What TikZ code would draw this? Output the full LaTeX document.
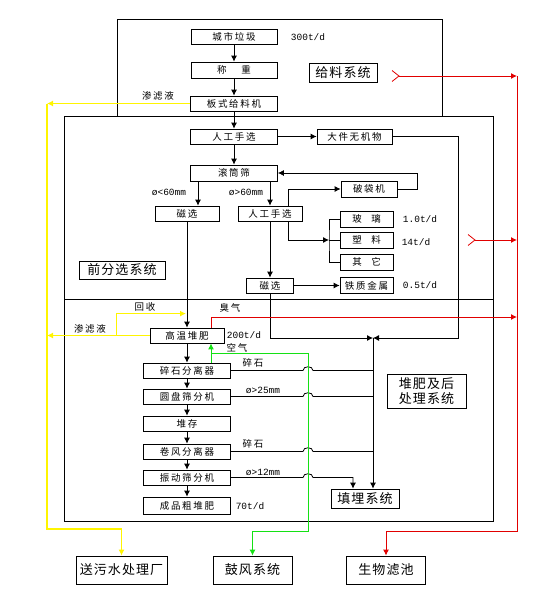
\documentclass[tikz,border=0pt]{standalone}
\usepackage{fontspec}
\newfontfamily\cjk[LetterSpace=18]{Noto Sans CJK SC}
\newfontfamily\cjkbig[LetterSpace=8]{Noto Sans CJK SC}
\newfontfamily\mono{Liberation Mono}
\usetikzlibrary{arrows.meta}
\definecolor{foul}{RGB}{225,0,0}
\definecolor{airgreen}{RGB}{20,225,20}
\definecolor{leach}{RGB}{255,245,0}
\tikzset{>={Latex[length=6pt,width=6pt]}}

\begin{document}
\begin{tikzpicture}[x=1pt,y=-1pt,line width=0.8pt]
	\tikzstyle{block} = [draw, inner sep=0pt, minimum height=15pt, font=\cjk\fontsize{9.5}{9.5}\selectfont]
	\tikzstyle{sysbox} = [draw, inner sep=0pt, align=center, font=\cjkbig\fontsize{13}{15}\selectfont]
	\tikzstyle{lbl} = [inner sep=0pt, font=\cjk\fontsize{9.5}{9.5}\selectfont]
	\tikzstyle{num} = [inner sep=0pt, font=\mono\fontsize{9.5}{9.5}\selectfont]

	\useasboundingbox (0,0) rectangle (553,616);

%----------рамки------------------------------
	\draw (117,116) -- (117,19) -- (442,19) -- (442,116);
	\draw (64,116) rectangle (493,521);
	\draw (64,299) -- (493,299);

%----------给料系统------------------------------
	\node[block, minimum width=86pt] (garbage) at (234,36.5) {城市垃圾};
	\node[block, minimum width=86pt, minimum height=16pt] (weigh) at (234,70) {称\quad\, 重};
	\node[block, minimum width=87pt] (feeder) at (234,103.5) {板式给料机};
	\node[sysbox, minimum width=68pt, minimum height=19pt] (feedsys) at (343,72.5) {给料系统};
	\node[num] (n300) at (308,37) {300t/d};
	\node[lbl] (leachA) at (158,96) {渗滤液};

	\path[->] (garbage) edge (weigh);
	\path[->] (weigh) edge (feeder);

%----------前分选系统------------------------------
	\node[block, minimum width=87pt] (pickA) at (234,136.5) {人工手选};
	\node[block, minimum width=75pt] (bulky) at (354.5,136.5) {大件无机物};
	\node[block, minimum width=87pt, minimum height=16pt] (drum) at (234,173) {滚筒筛};
	\node[block, minimum width=64pt] (magA) at (187,213.5) {磁选};
	\node[block, minimum width=64pt] (pickB) at (270,213.5) {人工手选};
	\node[block, minimum width=56pt, minimum height=16pt] (bagger) at (369,189) {破袋机};
	\node[block, minimum width=53pt, minimum height=16pt] (glass) at (366.5,219) {玻\quad 璃};
	\node[block, minimum width=53pt, minimum height=16pt] (plastic) at (366.5,240) {塑\quad 料};
	\node[block, minimum width=53pt, minimum height=16pt] (other) at (366.5,262) {其\quad 它};
	\node[block, minimum width=47pt] (magB) at (270,285.5) {磁选};
	\node[block, minimum width=53pt, minimum height=16pt] (iron) at (366.5,285.5) {铁质金属};
	\node[sysbox, minimum width=86pt, minimum height=18pt] (presys) at (122,270) {前分选系统};

	\node[num] (dlt) at (169,192) {ø<60mm};
	\node[num] (dgt) at (246,192) {ø>60mm};
	\node[num] (n10) at (420,219) {1.0t/d};
	\node[num] (n14) at (416,242) {14t/d};
	\node[num] (n05) at (420,285.5) {0.5t/d};

	\coordinate (brk) at (329,240);
	\coordinate (bend) at (458,338);
	\coordinate (jn) at (373,338);

	\path[->] (feeder) edge (pickA);
	\path[->] (pickA) edge (bulky);
	\path[->] (pickA) edge (drum);
	\draw[->] ([xshift=11pt]magA.north |- drum.south) -- ([xshift=11pt]magA.north);
	\draw[->] (pickB.north |- drum.south) -- (pickB.north);
	\draw[->] (bagger.east) -- ++(20,0) |- (drum.east);
	\draw[->] ([xshift=-14pt]pickB.north east) |- (bagger.west);
	\draw[->] ([xshift=-14pt]pickB.south east) |- (brk);
	\draw (glass.west) -| (brk) |- (other.west);
	\draw (brk) -- (plastic.west);
	\path[->] (pickB) edge (magB);
	\path[->] (magB) edge (iron);
	\draw[->] (magB.south) |- (jn);
	\draw[->] (bulky.east) -| (bend) -- (jn);

%----------堆肥及后处理系统------------------------------
	\node[block, minimum width=74pt] (hot) at (187,335.5) {高温堆肥};
	\node[block, minimum width=87pt] (stone) at (187,370.5) {碎石分离器};
	\node[block, minimum width=87pt] (disc) at (187,396.5) {圆盘筛分机};
	\node[block, minimum width=87pt] (pile) at (187,423.5) {堆存};
	\node[block, minimum width=87pt] (cyclone) at (187,451.5) {卷风分离器};
	\node[block, minimum width=87pt] (shaker) at (187,477.5) {振动筛分机};
	\node[block, minimum width=87pt, minimum height=17pt] (product) at (187,505.5) {成品粗堆肥};
	\node[sysbox, minimum width=68pt, minimum height=19pt] (landfill) at (365,498.5) {填埋系统};
	\node[sysbox, minimum width=79pt, minimum height=34pt] (postsys) at (426.5,391) {堆肥及后\\处理系统};

	\node[lbl] (recyc) at (145,307) {回收};
	\node[lbl] (leachB) at (90,329) {渗滤液};
	\node[lbl] (odour) at (230,308) {臭气};
	\node[num] (n200) at (244,335) {200t/d};
	\node[lbl] (airlbl) at (237,348) {空气};
	\node[lbl] (gravelA) at (253,363) {碎石};
	\node[num] (d25) at (263,390) {ø>25mm};
	\node[lbl] (gravelB) at (253,444) {碎石};
	\node[num] (d12) at (263,472) {ø>12mm};
	\node[num] (n70) at (250,506) {70t/d};

	\path[->] (magA) edge (hot);
	\path[->] (hot) edge (stone);
	\path[->] (stone) edge (disc);
	\path[->] (disc) edge (pile);
	\path[->] (pile) edge (cyclone);
	\path[->] (cyclone) edge (shaker);
	\path[->] (shaker) edge (product);

	\coordinate (airturn) at (308,353);
	\coordinate (airbot) at (308,531);

	%hops over the air line
	\draw (stone.east) -- ([xshift=-5pt]airturn |- stone.east) .. controls +(0,-5) and +(0,-5) .. ([xshift=5pt]airturn |- stone.east) -- (jn |- stone.east);
	\draw (disc.east) -- ([xshift=-5pt]airturn |- disc.east) .. controls +(0,-5) and +(0,-5) .. ([xshift=5pt]airturn |- disc.east) -- (jn |- disc.east);
	\draw (cyclone.east) -- ([xshift=-5pt]airturn |- cyclone.east) .. controls +(0,-5) and +(0,-5) .. ([xshift=5pt]airturn |- cyclone.east) -- (jn |- cyclone.east);
	\draw[->] (shaker.east) -- ([xshift=-5pt]airturn |- shaker.east) .. controls +(0,-5) and +(0,-5) .. ([xshift=5pt]airturn |- shaker.east) -| ([xshift=-12pt]landfill.north);
	\draw[->] (jn) -- (jn |- landfill.north);

%----------外部系统------------------------------
	\node[sysbox, minimum width=91pt, minimum height=28pt] (sewage) at (121.5,570) {送污水处理厂};
	\node[sysbox, minimum width=79pt, minimum height=28pt] (blower) at (252.5,570) {鼓风系统};
	\node[sysbox, minimum width=79pt, minimum height=28pt] (biofilter) at (386,570) {生物滤池};

	%air
	\draw[airgreen, line width=1pt, <->] ([xshift=24pt]hot.south) |- (airturn) -- (airbot) -| (blower.north);
	\draw[airgreen, line width=1pt] ([xshift=24pt]hot.south |- airturn) -- ([xshift=24pt]stone.north);

	%odour
	\coordinate (chevA) at (399,76);
	\coordinate (chevB) at (475,240);
	\coordinate (redtop) at (517,76);
	\coordinate (redmid) at (517,317);
	\coordinate (redbot) at (517,531);
	\draw[foul] ([shift={(-7,-5.5)}]chevA) -- (chevA) -- ([shift={(-7,5.5)}]chevA);
	\draw[foul] ([shift={(-7,-5.5)}]chevB) -- (chevB) -- ([shift={(-7,5.5)}]chevB);
	\draw[foul, line width=1pt, ->] (chevA) -- (redtop);
	\draw[foul, line width=1pt, ->] (chevB) -- (redtop |- chevB);
	\draw[foul, line width=1pt, ->] ([xshift=24pt]hot.north) |- (redmid);
	\draw[foul, line width=1pt, ->] (redtop) -- (redbot) -| (biofilter.north);

	%leachate
	\coordinate (yeltop) at (47,103.5);
	\coordinate (yelbot) at (47,529);
	\draw[leach, line width=1.2pt, ->] (feeder.west) -- (yeltop);
	\draw[leach, line width=1.2pt, ->] (yeltop) -- (yelbot) -| (sewage.north);
	\draw[leach, line width=1.2pt, ->] (hot.west) -- (yeltop |- hot.west);
	\draw[leach, line width=1.2pt, ->] ([xshift=-33pt]hot.west) |- ([xshift=-1pt, yshift=14pt]hot.north);

\end{tikzpicture}
\end{document}
